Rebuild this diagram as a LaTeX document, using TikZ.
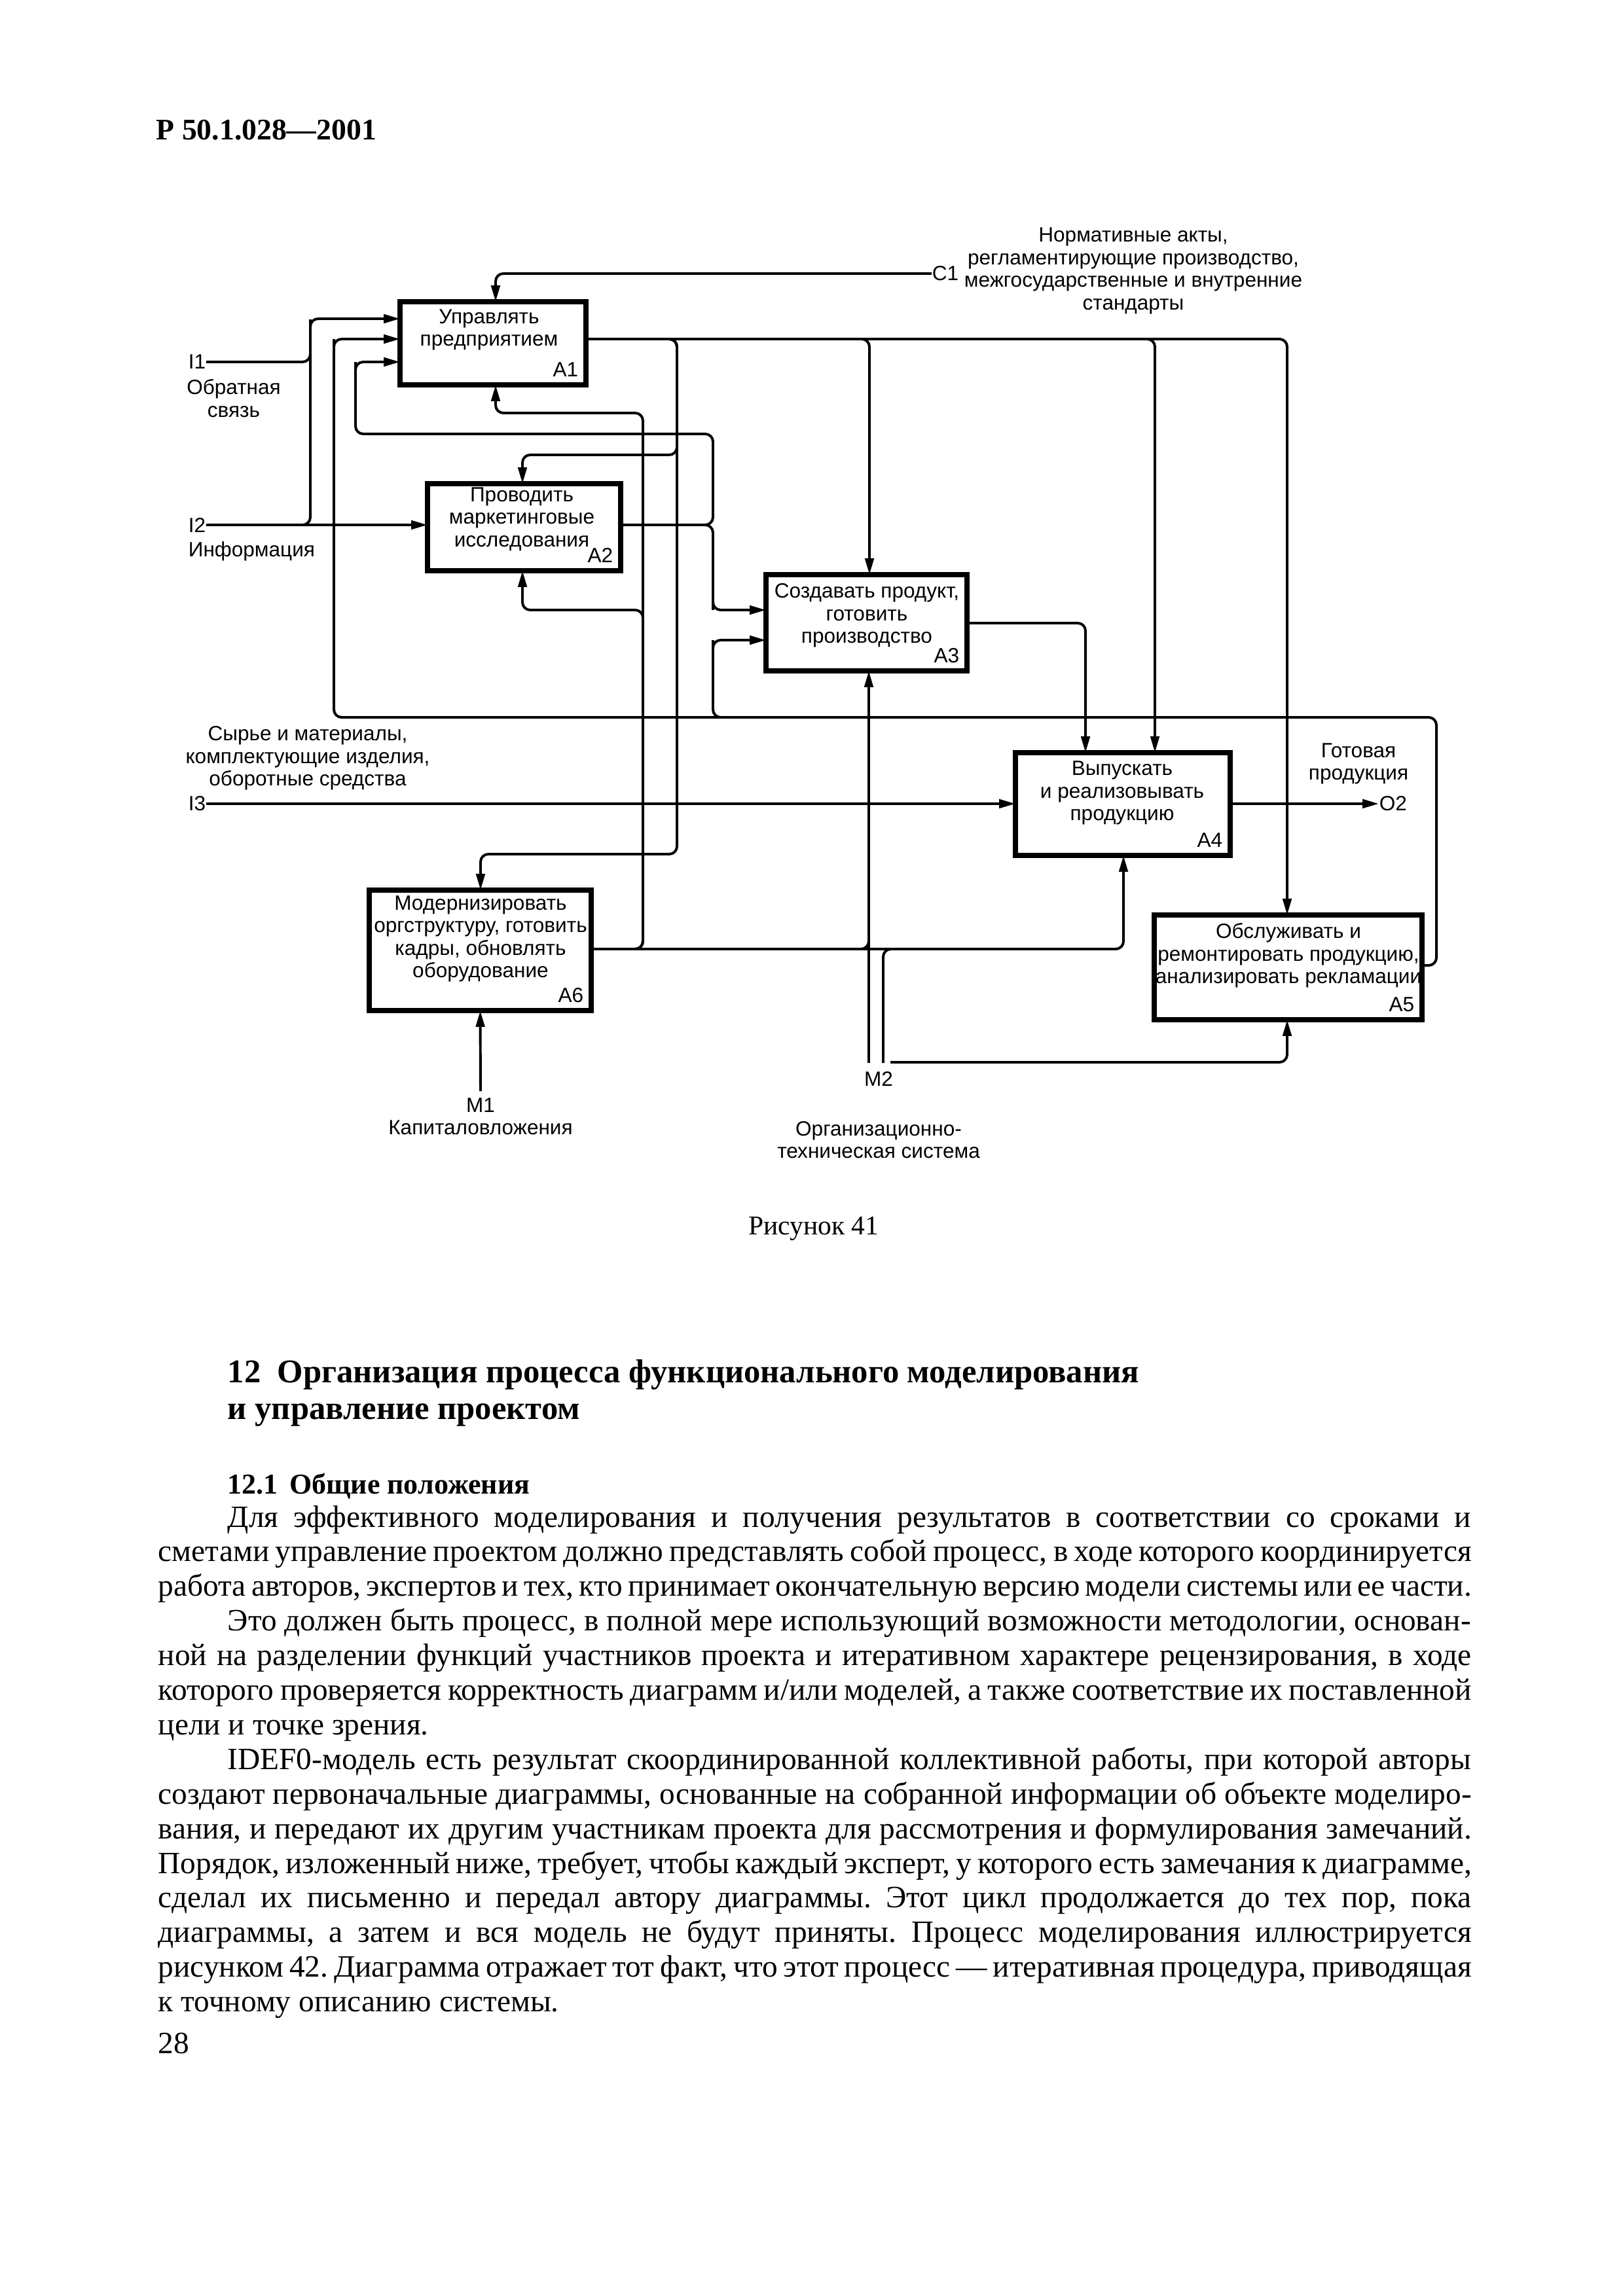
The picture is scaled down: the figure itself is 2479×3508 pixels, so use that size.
\documentclass[tikz,border=0pt]{standalone}
\usepackage{fontspec}
\setmainfont{Liberation Serif}
\newfontfamily\diagfont{Liberation Sans}
\usetikzlibrary{arrows.meta,calc}
\newlength\px
\setlength\px{0.08467mm}
\frenchspacing
\tikzset{
  conn/.style={line width=0.95pt, rounded corners=1mm},
  arr/.style={conn, -{Triangle[length=6pt,width=3.2pt]}},
  procbox/.style={draw, line width=1.7pt, inner sep=0pt, outer sep=0pt},
  dtext/.style={font=\diagfont\fontsize{7.6}{8.3}\selectfont, inner sep=0pt, align=center},
  numlbl/.style={font=\diagfont\fontsize{7.6}{8.3}\selectfont, inner sep=0pt, anchor=base east},
  body/.style={font=\fontsize{11.4}{12.7}\selectfont\frenchspacing, inner sep=0pt, anchor=base west},
  hdg/.style={font=\bfseries\fontsize{12.2}{14}\selectfont, inner sep=0pt, anchor=base west},
}
\newcommand\jl[4]{\node[body] (#1) at (#2) {\makebox[#3\px][s]{#4}};}
\begin{document}
\begin{tikzpicture}[x=0.08467mm, y=-0.08467mm]
\fill[white] (0,0) rectangle (2479,3508);
\path[use as bounding box] (0,0) rectangle (2479,3508);

% ---------- page header ----------
\node[anchor=base west, font=\bfseries\fontsize{11}{13}\selectfont, inner sep=0pt] (hdr) at (238,213) {Р 50.1.028—2001};

% ---------- boxes ----------
\node[procbox, minimum width=284\px, minimum height=127\px] (A1) at (753,524.5) {};
\node[procbox, minimum width=295\px, minimum height=133\px] (A2) at (800.5,805.5) {};
\node[procbox, minimum width=307\px, minimum height=147\px] (A3) at (1323.5,951.5) {};
\node[procbox, minimum width=328\px, minimum height=157\px] (A4) at (1715,1228.5) {};
\node[procbox, minimum width=409\px, minimum height=160\px] (A5) at (1967.5,1478) {};
\node[procbox, minimum width=339\px, minimum height=184\px] (A6) at (733.5,1452) {};

\node[dtext] (A1t) at (747,504) {Управлять\\предприятием};
\node[dtext] (A2t) at (797,793) {Проводить\\маркетинговые\\исследования};
\node[dtext] (A3t) at (1324,940.5) {Создавать продукт,\\готовить\\производство};
\node[dtext] (A4t) at (1714,1211.5) {Выпускать\\и реализовывать\\продукцию};
\node[dtext] (A5t) at (1968,1460) {Обслуживать и\\ремонтировать продукцию,\\анализировать рекламации};
\node[dtext] (A6t) at (734,1434.5) {Модернизировать\\оргструктуру, готовить\\кадры, обновлять\\оборудование};

\node[numlbl] (A1n) at ($(A1.south east)+(-11,-13)$) {A1};
\node[numlbl] (A2n) at ($(A2.south east)+(-11,-13)$) {A2};
\node[numlbl] (A3n) at ($(A3.south east)+(-11,-13)$) {A3};
\node[numlbl] (A4n) at ($(A4.south east)+(-11,-13)$) {A4};
\node[numlbl] (A5n) at ($(A5.south east)+(-11,-13)$) {A5};
\node[numlbl] (A6n) at ($(A6.south east)+(-11,-13)$) {A6};

% ---------- boundary labels ----------
\node[dtext, anchor=west] (C1) at (1423,418) {C1};
\node[dtext] (C1txt) at (1731,414) {Нормативные акты,\\регламентирующие производство,\\межгосударственные и внутренние\\стандарты};
\node[dtext, anchor=west] (I1) at (287,553) {I1};
\node[dtext] (I1txt) at (357,608.5) {Обратная\\связь};
\node[dtext, anchor=west] (I2) at (287,802) {I2};
\node[dtext, anchor=west] (I2txt) at (287,842) {Информация};
\node[dtext, anchor=west] (I3) at (287,1228) {I3};
\node[dtext] (I3txt) at (470,1158.5) {Сырье и материалы,\\комплектующие изделия,\\оборотные средства};
\node[dtext, anchor=west] (O2) at (2106,1228) {O2};
\node[dtext] (O2txt) at (2075,1167) {Готовая\\продукция};
\node[dtext] (M1) at (734,1689) {M1};
\node[dtext] (M1txt) at (734,1723) {Капиталовложения};
\node[dtext] (M2) at (1342,1648) {M2};
\node[dtext] (M2txt) at (1342,1741.5) {Организационно-\\техническая система};

\coordinate (fb) at (1112,1096);
\coordinate (m1a) at (734,1667);
\coordinate (m2a) at (1327,1624);
\coordinate (m2b) at (1349,1624);
\coordinate (m2c) at (1360,1623);

% ---------- connectors ----------
% control C1
\draw[arr] (C1.west) -| (A1.north -| 757,0);
% inputs I1, I2
\draw[conn] (I1.east) -| (474,530);
\draw[arr] (I2.east) -| (474,500) |- (A1.west |- 0,487);
\draw[arr] (I2.east) -- (A2.west |- 0,802);
% feedback from A5
\draw[arr] (A5.east |- 0,1475) -| (2194,1096) -| (510,530) |- (A1.west |- 0,518);
\draw[arr] (fb) -| (1089,990) |- (A3.west |- 0,978);
% output of A2
\draw[arr] (A2.east |- 0,802) -| (1089,663) -| (543,565) |- (A1.west |- 0,553);
\draw[arr] (A2.east |- 0,802) -| (1089,920) |- (A3.west |- 0,932);
% output of A1 (controls)
\draw[arr] (A1.east |- 0,518) -| (1034,695) -| (A2.north -| 798,0);
\draw[arr] (A1.east |- 0,518) -| (1034,1305) -| (A6.north -| 734,0);
\draw[arr] (A1.east |- 0,518) -| (A3.north -| 1328,0);
\draw[arr] (A1.east |- 0,518) -| (A4.north -| 1764,0);
\draw[arr] (A1.east |- 0,518) -| (A5.north -| 1966,0);
% output of A3
\draw[arr] (A3.east |- 0,952) -| (A4.north -| 1658,0);
% I3 and O2
\draw[arr] (I3.east) -- (A4.west |- 0,1228);
\draw[arr] (A4.east |- 0,1228) -- (O2.west);
% output of A6 (mechanisms)
\draw[arr] (A6.east |- 0,1450) -| (982,631) -| (A1.south -| 757,0);
\draw[arr] (A6.east |- 0,1450) -| (982,932) -| (A2.south -| 798,0);
\draw[conn] (A6.east |- 0,1450) -| (1327,1425);
\draw[arr] (A6.east |- 0,1450) -| (A4.south -| 1716,0);
% M2
\draw[arr] (m2a) -- (A3.south -| 1327,0);
\draw[conn] (m2b) |- (1400,1450);
\draw[arr] (m2c) -| (A5.south -| 1966,0);
% M1
\draw[arr] (m1a) -- (A6.south);

% ---------- caption ----------
\node[anchor=base, font=\fontsize{10}{12}\selectfont, inner sep=0pt] (cap) at (1243,1886) {Рисунок 41};

% ---------- section text ----------
\node[hdg] (h1) at (347,2112) {12\hspace{0.5em}Организация процесса функционального моделирования};
\node[hdg] (h2) at (347,2168) {и управление проектом};
\node[hdg, font=\bfseries\fontsize{10.6}{13}\selectfont] (h3) at (347,2282) {12.1\hspace{0.4em}Общие положения};

\jl{l1}{347,2333}{1899}{Для эффективного моделирования и получения результатов в соответствии со сроками и}
\jl{l2}{241,2385.9}{2006}{сметами управление проектом должно представлять собой процесс, в ходе которого координируется}
\jl{l3}{241,2438.8}{2006}{работа авторов, экспертов и тех, кто принимает окончательную версию модели системы или ее части.}
\jl{l4}{347,2491.7}{1899}{Это должен быть процесс, в полной мере использующий возможности методологии, основан-}
\jl{l5}{241,2544.6}{2006}{ной на разделении функций участников проекта и итеративном характере рецензирования, в ходе}
\jl{l6}{241,2597.5}{2006}{которого проверяется корректность диаграмм и/или моделей, а также соответствие их поставленной}
\node[body] (l7) at (241,2650.4) {цели и точке зрения.};
\jl{l8}{347,2703.3}{1899}{IDEF0-модель есть результат скоординированной коллективной работы, при которой авторы}
\jl{l9}{241,2756.2}{2006}{создают первоначальные диаграммы, основанные на собранной информации об объекте моделиро-}
\jl{l10}{241,2809.1}{2006}{вания, и передают их другим участникам проекта для рассмотрения и формулирования замечаний.}
\jl{l11}{241,2862}{2006}{Порядок, изложенный ниже, требует, чтобы каждый эксперт, у которого есть замечания к диаграмме,}
\jl{l12}{241,2914.9}{2006}{сделал их письменно и передал автору диаграммы. Этот цикл продолжается до тех пор, пока}
\jl{l13}{241,2967.8}{2006}{диаграммы, а затем и вся модель не будут приняты. Процесс моделирования иллюстрируется}
\jl{l14}{241,3020.7}{2006}{рисунком 42. Диаграмма отражает тот факт, что этот процесс — итеративная процедура, приводящая}
\node[body] (l15) at (241,3073.6) {к точному описанию системы.};
\node[body] (pg) at (241,3137) {28};
\end{tikzpicture}
\end{document}
